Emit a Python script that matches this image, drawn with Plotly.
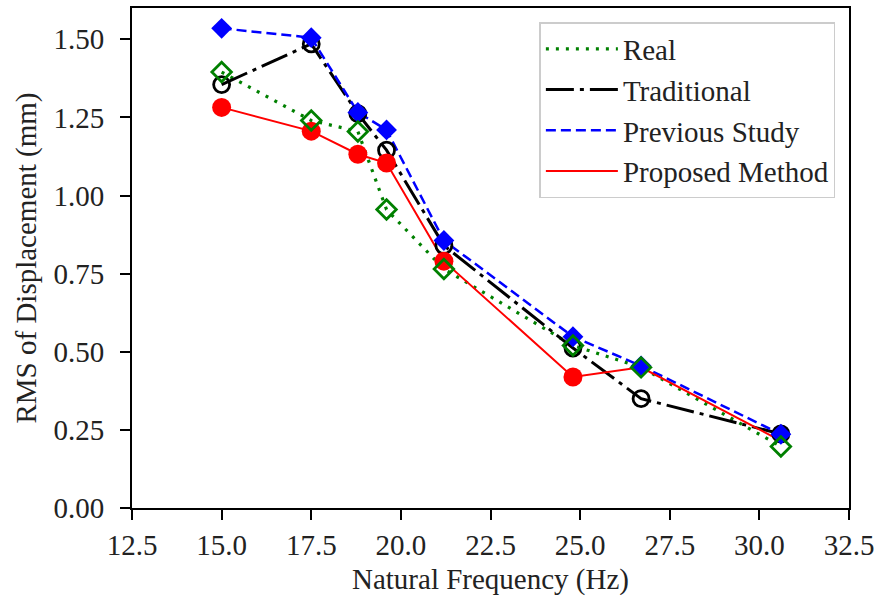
import plotly.graph_objects as go

# Data
freq = [15.0, 17.5, 18.8, 19.6, 21.2, 24.8, 26.7, 30.6]
real = [1.395, 1.240, 1.205, 0.955, 0.765, 0.520, 0.450, 0.197]
traditional = [1.355, 1.485, 1.262, 1.145, 0.840, 0.512, 0.350, 0.237]
previous = [1.535, 1.505, 1.266, 1.210, 0.856, 0.548, 0.455, 0.236]
proposed = [1.282, 1.206, 1.132, 1.104, 0.790, 0.419, 0.450, 0.215]
# the proposed-method curve shows markers only on its first six points
proposed_marker_shown = [1, 1, 1, 1, 1, 1, 0, 0]

x_ticks = [12.5, 15.0, 17.5, 20.0, 22.5, 25.0, 27.5, 30.0, 32.5]
y_ticks = [0.0, 0.25, 0.5, 0.75, 1.0, 1.25, 1.5]

GREEN = "#008000"
BLACK = "#000000"
BLUE = "#0000ff"
RED = "#ff0000"
FONT = "Liberation Serif, Times New Roman, serif"
FS = 29

fig = go.Figure()

# Lines (legend entries show lines only)
fig.add_trace(go.Scatter(x=freq, y=real, mode="lines", name="Real",
                         line=dict(color=GREEN, width=3.2, dash="3px,7px")))
fig.add_trace(go.Scatter(x=freq, y=traditional, mode="lines", name="Traditional",
                         line=dict(color=BLACK, width=3, dash="28px,6px,4px,6px")))
fig.add_trace(go.Scatter(x=freq, y=previous, mode="lines", name="Previous Study",
                         line=dict(color=BLUE, width=2.5, dash="10px,5px")))
fig.add_trace(go.Scatter(x=freq, y=proposed, mode="lines", name="Proposed Method",
                         line=dict(color=RED, width=2)))

# Markers (not in legend)
fig.add_trace(go.Scatter(x=freq, y=traditional, mode="markers", showlegend=False,
                         marker=dict(symbol="circle-open", size=16, color=BLACK, opacity=1,
                                     line=dict(width=2.8, color=BLACK))))
fig.add_trace(go.Scatter(x=freq, y=previous, mode="markers", showlegend=False,
                         marker=dict(symbol="diamond", size=16, color=BLUE, opacity=1,
                                     line=dict(width=0))))
fig.add_trace(go.Scatter(x=freq, y=proposed, mode="markers", showlegend=False,
                         marker=dict(symbol="circle", size=[19 * s for s in proposed_marker_shown],
                                     color=RED, opacity=1, line=dict(width=0))))
fig.add_trace(go.Scatter(x=freq, y=real, mode="markers", showlegend=False,
                         marker=dict(symbol="diamond-open", size=15, color=GREEN, opacity=1,
                                     line=dict(width=2.8, color=GREEN))))

axis_common = dict(
    showline=True, linecolor="black", linewidth=1.8, mirror=True,
    ticks="outside", ticklen=10, tickwidth=1.8, tickcolor="black",
    showgrid=False, zeroline=False,
    tickfont=dict(family=FONT, size=FS, color="#222"),
)

fig.update_layout(
    width=880, height=605,
    margin=dict(l=132, r=29, t=6, b=97),
    paper_bgcolor="white", plot_bgcolor="white",
    font=dict(family=FONT, size=FS, color="#222"),
    xaxis=dict(range=[12.5, 32.5], tickvals=x_ticks,
               ticktext=[f"{v:.1f}" for v in x_ticks],
               title=dict(text="Natural Frequency (Hz)", font=dict(family=FONT, size=FS), standoff=9),
               ticklabelstandoff=0,
               **axis_common),
    yaxis=dict(range=[0, 1.6], tickvals=y_ticks,
               ticktext=[f"{v:.2f}" for v in y_ticks],
               title=dict(text="RMS of Displacement (mm)", font=dict(family=FONT, size=FS), standoff=8),
               ticklabelstandoff=10,
               **axis_common),
    legend=dict(x=0.981, y=0.972, xanchor="right", yanchor="top",
                bgcolor="rgba(255,255,255,0.85)", bordercolor="#cccccc", borderwidth=1.5,
                font=dict(family=FONT, size=FS, color="#222"),
                itemwidth=72, tracegroupgap=0),
)

fig.write_html("out.html", config={"displayModeBar": False},
               post_script="document.body.style.margin='0';")
